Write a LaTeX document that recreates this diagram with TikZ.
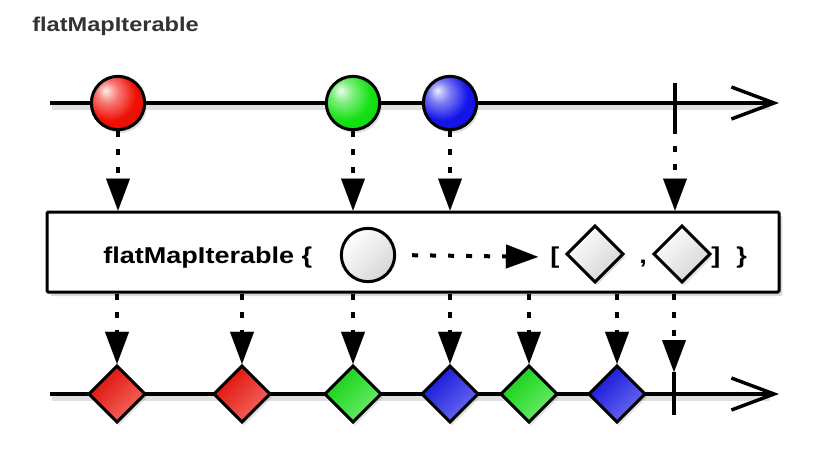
\documentclass[tikz,border=0pt]{standalone}
\usepackage{fontspec}
\newfontfamily\labfont{Liberation Sans}[FakeStretch=1.18]
\usetikzlibrary{arrows.meta,shapes.geometric,shadows}
\definecolor{mred}{RGB}{240,15,5}
\definecolor{mgreen}{RGB}{20,225,20}
\definecolor{mblue}{RGB}{20,20,235}
\makeatletter
\pgfdeclareradialshading[tikz@ball]{brightball}{\pgfqpoint{-12bp}{12bp}}{%
  color(0bp)=(tikz@ball!8!white); color(10bp)=(tikz@ball!55!white);
  color(24bp)=(tikz@ball); color(42bp)=(tikz@ball!92!black); color(64bp)=(tikz@ball!75!black)}
\tikzset{brightball/.style={shade, shading=brightball, /utils/exec={\colorlet{tikz@ball}{#1}}}}
\makeatother
\tikzset{
  tl/.style={line width=2.6pt, -{Straight Barb[length=32pt,width=24pt]}},
  tlshadow/.style={line width=5pt, black, opacity=0.12},
  tickline/.style={line width=2.6pt},
  dotarrow/.style={line width=3pt, dash pattern=on 4.5pt off 9pt,
    -{Triangle[length=24pt,width=18pt,line width=0.01pt]}},
  softshadow/.style={drop shadow={shadow xshift=1.5pt, shadow yshift=-2.5pt, opacity=0.25}},
  ballnode/.style={circle, draw, line width=2.25pt, minimum size=40pt, inner sep=0pt, softshadow, brightball=#1},
  diam/.style={diamond, aspect=1, draw, line width=2.25pt, minimum width=43pt, minimum height=43pt, inner sep=0pt, line join=miter, softshadow},
  cdiam/.style={diam, top color=#1!92!black, middle color=#1, bottom color=#1!62!white, shading angle=45},
  ediam/.style={diam, top color=white, middle color=white, bottom color=black!17, shading angle=45, drop shadow={opacity=0}},
  ecirc/.style={circle, draw, line width=2.25pt, minimum size=40pt, inner sep=0pt, top color=white, middle color=white, bottom color=black!16, shading angle=45},
  boxnode/.style={rectangle, draw, line width=2.25pt, fill=white, rounded corners=1pt, minimum width=549pt, minimum height=60pt, inner sep=0pt,
    drop shadow={shadow xshift=2.5pt, shadow yshift=-3pt, opacity=0.3}},
  txt/.style={inner sep=0pt, font=\labfont\bfseries\fontsize{17.2}{20}\selectfont},
  ttl/.style={inner sep=0pt, font=\labfont\bfseries\fontsize{15}{18}\selectfont, text=black!80},
}
\begin{document}
\begin{tikzpicture}[x=0.75pt,y=-0.75pt]
\useasboundingbox (0,0) rectangle (837,455);
% title
\node[ttl, anchor=base west] (title) at (32,31) {flatMapIterable};
% top timeline
\coordinate (tA) at (50,103);
\coordinate (tB) at (779,103);
\coordinate (tAs) at (52,107);
\coordinate (tBs) at (770,107);
\draw[tlshadow] (tAs) -- (tBs);
\draw[tl] (tA) -- (tB);
\coordinate (tt1) at (675,83);
\coordinate (tt2) at (675,128);
\draw[tickline] (tt1) -- (tt2);
\node[ballnode=mred] (c1) at (118,103) {};
\node[ballnode=mgreen] (c2) at (353,103) {};
\node[ballnode=mblue] (c3) at (450,103) {};
% box
\node[boxnode] (box) at (413,252) {};
\node[txt, anchor=base west] (lbl) at (103,263) {flatMapIterable \{};
\node[ecirc] (ec) at (368,255) {};
\node[txt, anchor=base west] (lb) at (550,263) {[};
\node[ediam] (ed1) at (595,254) {};
\node[txt, anchor=base] (cm) at (643,263) {,};
\node[ediam] (ed2) at (682,254) {};
\node[txt, anchor=base west] (rb) at (711,263) {]};
\node[txt, anchor=base west] (rc) at (736,263) {\}};
\draw[dotarrow, shorten <=12pt, shorten >=9pt] (ec.east) -- (lb.west);
% top arrows into box
\foreach \c in {c1,c2,c3} \draw[dotarrow] (\c.south) -- (\c |- box.north);
\draw[dotarrow] (tt2) -- (tt2 |- box.north);
% bottom timeline
\coordinate (bA) at (50,394);
\coordinate (bB) at (779,394);
\coordinate (bAs) at (52,398);
\coordinate (bBs) at (770,398);
\draw[tlshadow] (bAs) -- (bBs);
\draw[tl] (bA) -- (bB);
\coordinate (bt1) at (674,372);
\coordinate (bt2) at (674,415);
\draw[tickline] (bt1) -- (bt2);
\node[cdiam=mred] (d1) at (117,394) {};
\node[cdiam=mred] (d2) at (242,394) {};
\node[cdiam=mgreen] (d3) at (353,394) {};
\node[cdiam=mblue] (d4) at (450,394) {};
\node[cdiam=mgreen] (d5) at (529,394) {};
\node[cdiam=mblue] (d6) at (617,394) {};
\foreach \d in {d1,d2,d3,d4,d5,d6} \draw[dotarrow] (\d |- box.south) -- (\d.north);
\draw[dotarrow] (bt1 |- box.south) -- (bt1);
\end{tikzpicture}
\end{document}
